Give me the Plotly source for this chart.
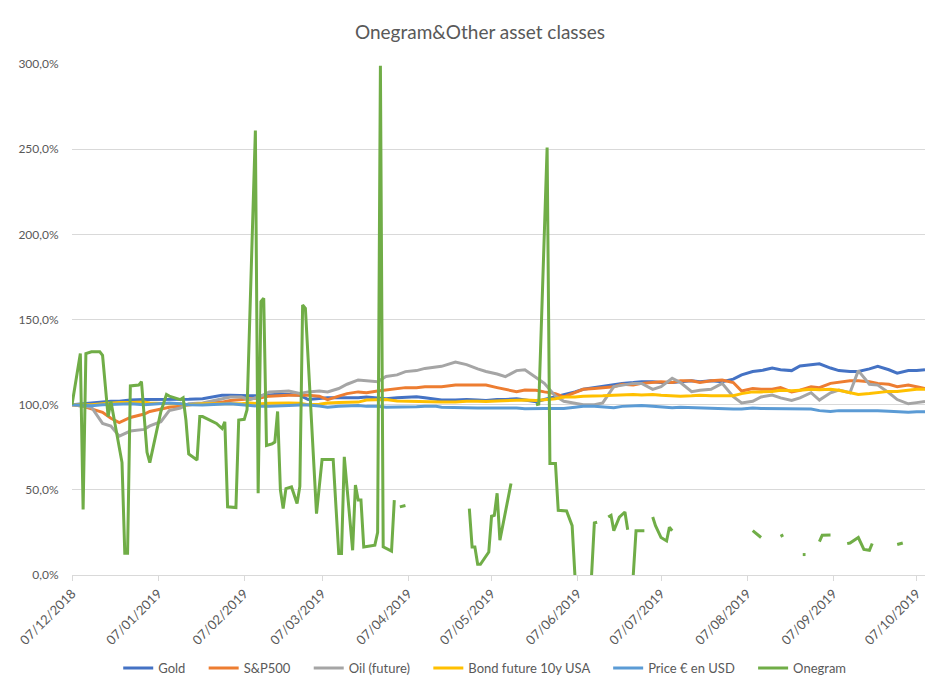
import plotly.graph_objects as go

# ---------------- data ----------------
fin_dates = [
    "2018-12-07", "2018-12-11", "2018-12-14", "2018-12-18", "2018-12-21", "2018-12-24", "2018-12-28",
    "2019-01-02", "2019-01-04", "2019-01-08", "2019-01-11", "2019-01-15", "2019-01-18", "2019-01-23", "2019-01-26", "2019-01-30",
    "2019-02-02", "2019-02-06", "2019-02-09", "2019-02-13", "2019-02-16", "2019-02-20", "2019-02-23", "2019-02-27",
    "2019-03-02", "2019-03-06", "2019-03-09", "2019-03-13", "2019-03-16", "2019-03-20", "2019-03-23", "2019-03-27", "2019-03-30",
    "2019-04-03", "2019-04-06", "2019-04-10", "2019-04-13", "2019-04-17", "2019-04-19", "2019-04-24", "2019-04-28",
    "2019-05-02", "2019-05-05", "2019-05-09", "2019-05-12", "2019-05-16", "2019-05-19", "2019-05-23", "2019-05-26", "2019-05-30",
    "2019-06-02", "2019-06-06", "2019-06-09", "2019-06-13", "2019-06-16", "2019-06-20", "2019-06-23", "2019-06-27", "2019-06-30",
    "2019-07-04", "2019-07-07", "2019-07-11", "2019-07-14", "2019-07-18", "2019-07-21", "2019-07-25", "2019-07-29",
    "2019-08-02", "2019-08-05", "2019-08-09", "2019-08-12", "2019-08-16", "2019-08-19", "2019-08-23", "2019-08-26", "2019-08-30",
    "2019-09-02", "2019-09-06", "2019-09-09", "2019-09-13", "2019-09-16", "2019-09-20", "2019-09-23", "2019-09-27", "2019-09-30",
    "2019-10-04", "2019-10-07", "2019-10-10",
]

gold = [
    1.00, 1.005, 1.01, 1.018, 1.02, 1.02, 1.027,
    1.03, 1.03, 1.03, 1.03, 1.03, 1.032, 1.035, 1.045, 1.055,
    1.055, 1.052, 1.053, 1.053, 1.058, 1.062, 1.06, 1.055,
    1.03, 1.035, 1.04, 1.04, 1.04, 1.04, 1.045, 1.04, 1.035,
    1.04, 1.042, 1.047, 1.04, 1.03, 1.027, 1.027, 1.03,
    1.027, 1.025, 1.03, 1.03, 1.035, 1.027, 1.018, 1.03, 1.045,
    1.06, 1.075, 1.09, 1.10, 1.105, 1.115, 1.125, 1.13, 1.135,
    1.135, 1.13, 1.13, 1.135, 1.14, 1.135, 1.14, 1.135,
    1.15, 1.175, 1.195, 1.20, 1.215, 1.205, 1.20, 1.227, 1.233,
    1.24, 1.215, 1.20, 1.195, 1.195, 1.21, 1.225, 1.205, 1.185,
    1.20, 1.20, 1.205,
]

sp500 = [
    1.00, 0.99, 0.975, 0.955, 0.92, 0.895, 0.925,
    0.945, 0.96, 0.975, 0.985, 0.99, 1.0, 1.005, 1.01, 1.015,
    1.025, 1.03, 1.035, 1.04, 1.05, 1.055, 1.055, 1.055,
    1.055, 1.05, 1.03, 1.05, 1.065, 1.075, 1.07, 1.08, 1.085,
    1.095, 1.10, 1.10, 1.105, 1.105, 1.105, 1.115, 1.115,
    1.115, 1.115, 1.10, 1.09, 1.076, 1.086, 1.085, 1.075, 1.065,
    1.045, 1.07, 1.09, 1.095, 1.10, 1.105, 1.12, 1.115, 1.125,
    1.13, 1.135, 1.13, 1.14, 1.14, 1.13, 1.14, 1.145,
    1.13, 1.08, 1.095, 1.09, 1.09, 1.10, 1.075, 1.085, 1.105,
    1.10, 1.125, 1.13, 1.14, 1.14, 1.135, 1.125, 1.12, 1.105,
    1.115, 1.105, 1.095,
]

oil = [
    1.00, 0.99, 0.985, 0.89, 0.875, 0.815, 0.845,
    0.855, 0.875, 0.90, 0.965, 0.98, 1.005, 1.01, 1.02, 1.035,
    1.045, 1.045, 1.03, 1.05, 1.075, 1.078, 1.08, 1.066,
    1.075, 1.08, 1.075, 1.095, 1.12, 1.145, 1.14, 1.135, 1.165,
    1.175, 1.194, 1.20, 1.213, 1.22, 1.225, 1.25, 1.235,
    1.21, 1.195, 1.18, 1.165, 1.20, 1.205, 1.16, 1.125, 1.05,
    1.02, 1.008, 1.0, 1.0, 1.01, 1.106, 1.115, 1.125, 1.125,
    1.09, 1.106, 1.155, 1.13, 1.076, 1.085, 1.09, 1.125,
    1.047, 1.01, 1.02, 1.045, 1.057, 1.04, 1.025, 1.04, 1.07,
    1.027, 1.07, 1.086, 1.07, 1.20, 1.12, 1.115, 1.07, 1.03,
    1.005, 1.012, 1.018,
]

bond = [
    1.00, 1.0, 1.0, 1.005, 1.01, 1.012, 1.012,
    1.015, 1.01, 1.005, 1.005, 1.005, 1.0, 1.005, 1.005, 1.008,
    1.005, 1.005, 1.01, 1.005, 1.008, 1.01, 1.01, 1.008,
    1.0, 1.003, 1.01, 1.012, 1.012, 1.015, 1.027, 1.03, 1.03,
    1.022, 1.02, 1.02, 1.015, 1.012, 1.015, 1.015, 1.02,
    1.02, 1.018, 1.022, 1.025, 1.025, 1.028, 1.025, 1.03, 1.035,
    1.045, 1.045, 1.05, 1.05, 1.052, 1.055, 1.057, 1.06, 1.057,
    1.06, 1.055, 1.052, 1.05, 1.052, 1.055, 1.052, 1.05,
    1.052, 1.065, 1.075, 1.075, 1.078, 1.085, 1.082, 1.085, 1.09,
    1.088, 1.09, 1.085, 1.072, 1.06, 1.065, 1.07, 1.078, 1.078,
    1.085, 1.09, 1.09,
]

eur_usd = [
    1.00, 0.998, 0.993, 1.0, 1.002, 1.003, 1.005,
    1.0, 1.002, 1.005, 1.01, 1.005, 1.0, 0.998, 1.0, 1.005,
    1.005, 1.0, 0.995, 0.99, 0.99, 0.995, 0.995, 0.998,
    0.998, 0.992, 0.985, 0.99, 0.993, 0.995, 0.99, 0.99, 0.985,
    0.985, 0.985, 0.988, 0.99, 0.99, 0.985, 0.982, 0.978,
    0.98, 0.98, 0.98, 0.982, 0.98, 0.976, 0.975, 0.978, 0.978,
    0.978, 0.985, 0.99, 0.99, 0.985, 0.982, 0.99, 0.995, 0.995,
    0.99, 0.985, 0.982, 0.985, 0.982, 0.982, 0.978, 0.975,
    0.975, 0.975, 0.98, 0.978, 0.978, 0.975, 0.975, 0.975, 0.975,
    0.965, 0.96, 0.965, 0.965, 0.968, 0.965, 0.965, 0.962, 0.958,
    0.955, 0.958, 0.958,
]

onegram_dates = [
    "2018-12-07", "2018-12-10", "2018-12-11", "2018-12-12", "2018-12-14", "2018-12-17", "2018-12-18",
    "2018-12-20", "2018-12-21", "2018-12-25", "2018-12-26", "2018-12-27", "2018-12-28", "2018-12-31",
    "2019-01-01", "2019-01-03", "2019-01-04", "2019-01-08", "2019-01-10", "2019-01-11", "2019-01-15",
    "2019-01-16", "2019-01-17", "2019-01-18", "2019-01-21", "2019-01-22", "2019-01-23", "2019-01-28",
    "2019-01-30", "2019-01-31", "2019-02-01", "2019-02-04", "2019-02-05", "2019-02-07", "2019-02-08",
    "2019-02-11", "2019-02-12", "2019-02-13", "2019-02-14", "2019-02-15", "2019-02-17", "2019-02-18",
    "2019-02-19", "2019-02-20", "2019-02-21", "2019-02-22", "2019-02-24", "2019-02-26", "2019-02-27",
    "2019-02-28", "2019-03-01", "2019-03-05", "2019-03-07", "2019-03-11", "2019-03-13", "2019-03-14",
    "2019-03-15", "2019-03-18", "2019-03-19", "2019-03-20", "2019-03-21", "2019-03-22", "2019-03-26",
    "2019-03-27", "2019-03-28", "2019-03-29", "2019-04-01", "2019-04-02", "2019-04-03", "2019-04-04",
    "2019-04-06", "2019-04-07", "2019-04-29", "2019-04-30", "2019-05-01", "2019-05-02", "2019-05-03",
    "2019-05-06", "2019-05-07", "2019-05-08", "2019-05-09", "2019-05-10", "2019-05-14", "2019-05-15",
    "2019-05-23", "2019-05-24", "2019-05-27", "2019-05-28", "2019-05-30", "2019-05-31", "2019-06-03",
    "2019-06-05", "2019-06-06", "2019-06-07", "2019-06-11", "2019-06-12", "2019-06-13", "2019-06-14",
    "2019-06-15", "2019-06-18", "2019-06-19", "2019-06-20", "2019-06-21", "2019-06-22", "2019-06-24",
    "2019-06-25", "2019-06-26", "2019-06-27", "2019-06-28", "2019-07-01", "2019-07-02", "2019-07-04",
    "2019-07-05", "2019-07-07", "2019-07-09", "2019-07-10", "2019-07-11", "2019-07-12", "2019-08-09",
    "2019-08-12", "2019-08-13", "2019-08-19", "2019-08-20", "2019-08-21", "2019-08-27", "2019-08-28",
    "2019-08-29", "2019-09-02", "2019-09-03", "2019-09-06", "2019-09-07", "2019-09-12", "2019-09-13",
    "2019-09-16", "2019-09-18", "2019-09-20", "2019-09-21", "2019-09-22", "2019-09-30", "2019-10-02",
]

onegram = [
    1.00, 1.30, 0.385, 1.30, 1.31, 1.31, 1.29,
    0.93, 1.02, 0.66, 0.127, 0.127, 1.11, 1.115,
    1.135, 0.72, 0.66, 0.96, 1.06, 1.05, 1.03,
    1.04, 0.91, 0.71, 0.675, 0.93, 0.93, 0.89,
    0.86, 0.90, 0.40, 0.396, 0.91, 0.914, 0.97,
    2.61, 0.48, 1.605, 1.625, 0.76, 0.77, 0.78,
    0.96, 0.50, 0.39, 0.507, 0.517, 0.42, 0.52,
    1.585, 1.566, 0.36, 0.678, 0.678, 0.126, 0.126,
    0.694, 0.145, 0.528, 0.44, 0.44, 0.165, 0.175,
    0.25, 2.99, 0.165, 0.14, 0.44, None, 0.40,
    0.408, None, 0.39, 0.165, 0.165, 0.063, 0.063,
    0.135, 0.345, 0.35, 0.48, 0.204, 0.537, None,
    1.00, 1.004, 2.51, 0.655, 0.655, 0.38, 0.376,
    0.29, 0.0, -0.5, -0.5, 0.0, 0.306, 0.31,
    None, 0.34, 0.35, 0.26, 0.30, 0.34, 0.37,
    0.266, None, 0.0, 0.26, 0.26, None, 0.34,
    0.29, 0.22, 0.20, 0.28, 0.26, None, 0.26,
    0.22, None, 0.227, 0.235, None, 0.12, 0.12,
    None, 0.196, 0.234, 0.235, None, 0.184, 0.188,
    0.22, 0.15, 0.145, 0.185, None, 0.179, 0.188,
]

tick_dates = [
    "2018-12-07", "2019-01-07", "2019-02-07", "2019-03-07", "2019-04-07", "2019-05-07",
    "2019-06-07", "2019-07-07", "2019-08-07", "2019-09-07", "2019-10-07",
]

series_names = ["Gold", "S&P500", "Oil (future)", "Bond future 10y USA", "Price € en USD"]
series_values = [gold, sp500, oil, bond, eur_usd]
series_colors = ["#4472C4", "#ED7D31", "#A5A5A5", "#FFC000", "#5B9BD5"]

# ---------------- figure ----------------
FONT = "Lato, Calibri, Carlito, 'Liberation Sans', sans-serif"
TXT = "#595959"
W, H = 944, 681  # page body has an 8px margin
PAD = "\u00a0" * 4  # extra spacing between legend entries

fig = go.Figure()
for name, vals, col in zip(series_names, series_values, series_colors):
    fig.add_trace(go.Scatter(
        x=fin_dates, y=vals, name=name + PAD, mode="lines",
        line=dict(color=col, width=3),
    ))
fig.add_trace(go.Scatter(
    x=onegram_dates, y=onegram, name="Onegram", mode="lines",
    line=dict(color="#70AD47", width=3), connectgaps=False,
))

fig.update_layout(
    width=W, height=H,
    paper_bgcolor="white", plot_bgcolor="white",
    separators=",.",
    margin=dict(l=64, r=27, t=56, b=114, autoexpand=False),
    font=dict(family=FONT, color=TXT, size=12),
    title=dict(text="Onegram&Other asset classes", x=0.5, xref="container",
               y=1 - 24 / H, yref="container", yanchor="middle",
               font=dict(family=FONT, size=19, color=TXT)),
    showlegend=True,
    legend=dict(orientation="h", xref="container", yref="container",
                x=0.505, xanchor="center", y=1 - 660 / H, yanchor="middle",
                font=dict(family=FONT, size=13, color=TXT),
                itemwidth=30, tracegroupgap=0, bgcolor="rgba(0,0,0,0)"),
    xaxis=dict(
        type="date", range=["2018-12-07", "2019-10-10"], automargin=False,
        tickvals=tick_dates, tickformat="%d/%m/%Y", tickangle=-45,
        showgrid=False, zeroline=False,
        showline=True, linecolor="#D9D9D9", linewidth=1,
        ticks="outside", ticklen=5, tickcolor="#D9D9D9",
        tickfont=dict(family=FONT, size=13, color=TXT),
    ),
    yaxis=dict(
        range=[0, 3], dtick=0.5, tick0=0, tickformat=".1%", automargin=False,
        showgrid=True, gridcolor="#D9D9D9", gridwidth=1,
        zeroline=False, showline=False,
        ticks="outside", ticklen=10, tickcolor="rgba(0,0,0,0)",
        tickfont=dict(family=FONT, size=12, color=TXT),
    ),
)

fig.write_html("out.html")
